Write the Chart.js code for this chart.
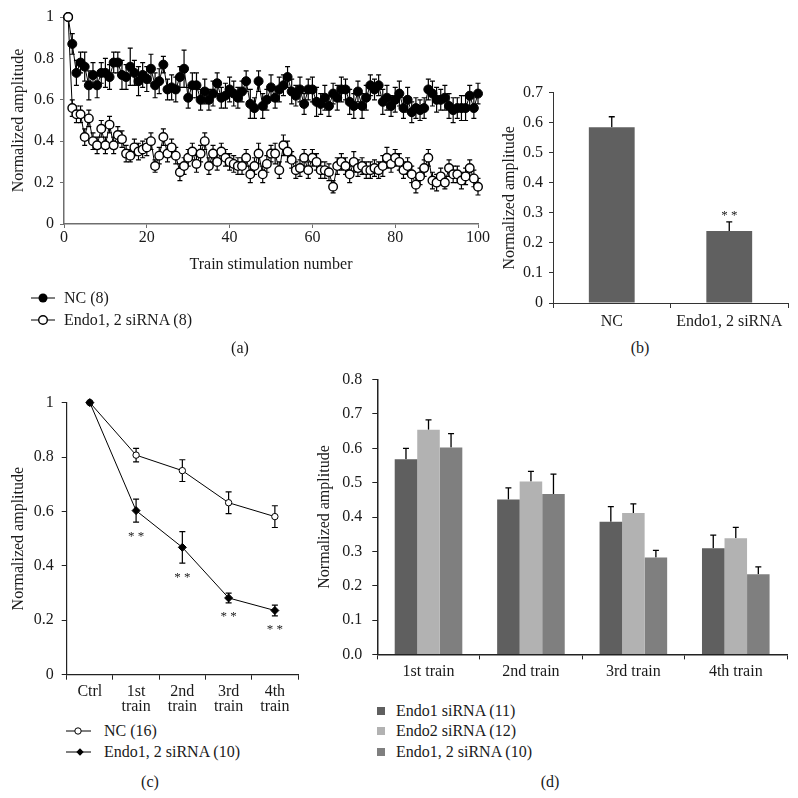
<!DOCTYPE html>
<html>
<head>
<meta charset="utf-8">
<script src="https://cdn.jsdelivr.net/npm/chart.js@4.4.1/dist/chart.umd.min.js"></script>
<style>
  html, body { margin: 0; padding: 0; background: #fff; }
  body { width: 798px; height: 798px; position: relative; overflow: hidden;
         font-family: "Liberation Serif", "DejaVu Serif", serif; color: #1a1a1a; }
  canvas { position: absolute; }
  .lbl { position: absolute; font-size: 16px; line-height: 20px; white-space: nowrap; transform: translateX(-50%); }
  .leg { position: absolute; height: 20px; font-size: 16px; line-height: 20px; white-space: nowrap; display: flex; align-items: center; }
  .leg svg { display: block; flex: none; }
</style>
</head>
<body>
<canvas id="chartA" width="492" height="290" style="left:0;top:0"></canvas>
<canvas id="chartB" width="299" height="275" style="left:499px;top:62px"></canvas>
<canvas id="chartC" width="305" height="335" style="left:0;top:385px"></canvas>
<canvas id="chartD" width="493" height="330" style="left:305px;top:360px"></canvas>

<!-- legend (a) -->
<div class="leg" style="left:28px;top:288px">
  <svg width="36" height="20"><line x1="3" y1="10" x2="27" y2="10" stroke="#000" stroke-width="1"/><circle cx="15" cy="10" r="4.5" fill="#000"/></svg>NC (8)
</div>
<div class="leg" style="left:28px;top:310px">
  <svg width="36" height="20"><line x1="3" y1="10" x2="27" y2="10" stroke="#000" stroke-width="1"/><circle cx="15" cy="10" r="4.3" fill="#fff" stroke="#000" stroke-width="1.4"/></svg>Endo1, 2 siRNA (8)
</div>
<div class="lbl" style="left:240px;top:338px">(a)</div>
<div class="lbl" style="left:640px;top:338px">(b)</div>

<!-- legend (c) -->
<div class="leg" style="left:62px;top:721px">
  <svg width="42" height="20"><line x1="4" y1="10" x2="29" y2="10" stroke="#000" stroke-width="1"/><circle cx="16" cy="10" r="3.2" fill="#fff" stroke="#000" stroke-width="1"/></svg>NC (16)
</div>
<div class="leg" style="left:62px;top:742px">
  <svg width="42" height="20"><line x1="4" y1="10" x2="29" y2="10" stroke="#000" stroke-width="1"/><polygon points="18,6.3 21.7,10 18,13.7 14.3,10" fill="#000"/></svg>Endo1, 2 siRNA (10)
</div>
<div class="lbl" style="left:150px;top:772px">(c)</div>

<!-- legend (d) -->
<div class="leg" style="left:375px;top:701px">
  <svg width="21" height="20"><rect x="2" y="6" width="8" height="8" fill="#5f5f5f"/></svg>Endo1 siRNA (11)
</div>
<div class="leg" style="left:375px;top:721px">
  <svg width="21" height="20"><rect x="2" y="6" width="8" height="8" fill="#b2b2b2"/></svg>Endo2 siRNA (12)
</div>
<div class="leg" style="left:375px;top:742px">
  <svg width="21" height="20"><rect x="2" y="6" width="8" height="8" fill="#7f7f7f"/></svg>Endo1, 2 siRNA (10)
</div>
<div class="lbl" style="left:550px;top:772px">(d)</div>

<script>
// (a) amplitude per train, trains 1..100
const ncTrain = [
  1.00, 0.87, 0.73, 0.78, 0.76, 0.67, 0.72, 0.67, 0.73, 0.73,
  0.71, 0.78, 0.78, 0.72, 0.71, 0.76, 0.73, 0.69, 0.72, 0.70,
  0.75, 0.67, 0.69, 0.77, 0.65, 0.66, 0.65, 0.71, 0.75, 0.61,
  0.67, 0.67, 0.60, 0.64, 0.60, 0.63, 0.68, 0.61, 0.62, 0.65,
  0.63, 0.61, 0.64, 0.69, 0.58, 0.56, 0.69, 0.57, 0.60, 0.66,
  0.61, 0.65, 0.67, 0.71, 0.64, 0.62, 0.65, 0.58, 0.65, 0.65,
  0.59, 0.58, 0.61, 0.57, 0.63, 0.61, 0.65, 0.65, 0.59, 0.57,
  0.64, 0.57, 0.61, 0.67, 0.65, 0.67, 0.59, 0.61, 0.57, 0.60,
  0.63, 0.56, 0.60, 0.54, 0.56, 0.55, 0.56, 0.65, 0.63, 0.60,
  0.60, 0.61, 0.57, 0.55, 0.56, 0.56, 0.56, 0.62, 0.56, 0.63
];
const ncTrainErr = [
  0.00, 0.05, 0.06, 0.05, 0.07, 0.07, 0.06, 0.06, 0.05, 0.07,
  0.06, 0.05, 0.05, 0.07, 0.06, 0.09, 0.06, 0.07, 0.06, 0.06,
  0.07, 0.06, 0.06, 0.04, 0.05, 0.06, 0.06, 0.05, 0.09, 0.05,
  0.06, 0.06, 0.05, 0.06, 0.05, 0.06, 0.05, 0.05, 0.06, 0.06,
  0.06, 0.05, 0.05, 0.05, 0.07, 0.05, 0.05, 0.06, 0.05, 0.06,
  0.05, 0.06, 0.05, 0.05, 0.06, 0.05, 0.06, 0.05, 0.05, 0.06,
  0.07, 0.05, 0.06, 0.05, 0.05, 0.06, 0.06, 0.05, 0.06, 0.06,
  0.05, 0.06, 0.06, 0.05, 0.05, 0.05, 0.06, 0.06, 0.05, 0.06,
  0.06, 0.05, 0.06, 0.05, 0.05, 0.05, 0.05, 0.05, 0.06, 0.06,
  0.05, 0.06, 0.06, 0.06, 0.05, 0.06, 0.06, 0.05, 0.05, 0.05
];
const endoTrain = [
  1.00, 0.56, 0.53, 0.53, 0.42, 0.51, 0.40, 0.38, 0.46, 0.38,
  0.48, 0.38, 0.43, 0.41, 0.34, 0.33, 0.37, 0.35, 0.36, 0.37,
  0.40, 0.28, 0.33, 0.42, 0.34, 0.37, 0.33, 0.25, 0.28, 0.32,
  0.35, 0.29, 0.34, 0.40, 0.28, 0.34, 0.30, 0.35, 0.32, 0.30,
  0.29, 0.28, 0.28, 0.32, 0.24, 0.28, 0.34, 0.24, 0.29, 0.34,
  0.34, 0.26, 0.38, 0.35, 0.31, 0.26, 0.27, 0.32, 0.26, 0.32,
  0.30, 0.26, 0.26, 0.25, 0.18, 0.28, 0.30, 0.28, 0.24, 0.30,
  0.27, 0.28, 0.26, 0.26, 0.27, 0.26, 0.28, 0.32, 0.29, 0.32,
  0.30, 0.26, 0.28, 0.24, 0.19, 0.23, 0.27, 0.32, 0.21, 0.20,
  0.23, 0.20, 0.27, 0.24, 0.24, 0.21, 0.23, 0.27, 0.22, 0.18
];
const endoTrainErr = [
  0.00, 0.04, 0.04, 0.04, 0.04, 0.04, 0.04, 0.04, 0.04, 0.04,
  0.04, 0.04, 0.04, 0.04, 0.04, 0.03, 0.04, 0.04, 0.04, 0.04,
  0.04, 0.03, 0.04, 0.04, 0.04, 0.04, 0.04, 0.04, 0.04, 0.04,
  0.04, 0.04, 0.04, 0.04, 0.04, 0.04, 0.04, 0.04, 0.04, 0.04,
  0.04, 0.04, 0.04, 0.04, 0.04, 0.04, 0.05, 0.04, 0.04, 0.04,
  0.05, 0.04, 0.05, 0.05, 0.04, 0.04, 0.04, 0.04, 0.04, 0.04,
  0.04, 0.04, 0.04, 0.04, 0.03, 0.04, 0.04, 0.04, 0.04, 0.05,
  0.04, 0.04, 0.04, 0.04, 0.04, 0.04, 0.05, 0.05, 0.04, 0.04,
  0.04, 0.04, 0.04, 0.04, 0.04, 0.04, 0.04, 0.04, 0.04, 0.04,
  0.04, 0.03, 0.04, 0.04, 0.04, 0.04, 0.04, 0.04, 0.04, 0.04
];

// (b)
const groupsB = ['NC', 'Endo1, 2 siRNA'];
const meanB = [0.585, 0.24];
const errB = [0.035, 0.03];
const sigB = ['', '**'];

// (c)
const trainsC = ['Ctrl', ['1st', 'train'], ['2nd', 'train'], ['3rd', 'train'], ['4th', 'train']];
const ncC = [1, 0.807, 0.75, 0.632, 0.581];
const ncCErr = [0, 0.025, 0.04, 0.04, 0.04];
const endoC = [1, 0.603, 0.468, 0.282, 0.236];
const endoCErr = [0, 0.042, 0.058, 0.018, 0.02];
const sigC = ['', '**', '**', '**', '**'];

// (d)
const trainsD = ['1st train', '2nd train', '3rd train', '4th train'];
const endo1D = [0.568, 0.451, 0.386, 0.309];
const endo1DErr = [0.032, 0.034, 0.044, 0.038];
const endo2D = [0.654, 0.503, 0.412, 0.338];
const endo2DErr = [0.029, 0.03, 0.026, 0.032];
const endo12D = [0.602, 0.467, 0.282, 0.233];
const endo12DErr = [0.041, 0.058, 0.021, 0.022];

const serif = '"Liberation Serif", "DejaVu Serif", serif';
const ink = '#1a1a1a';
Chart.defaults.font.family = serif;
Chart.defaults.font.size = 16;
Chart.defaults.color = ink;

// error bars drawn from the y scale, behind each dataset's own marks
const errorBars = {
  id: 'errorBars',
  beforeDatasetDraw(chart, args) {
    const ds = chart.data.datasets[args.index];
    if (!ds.errors) return;
    const meta = args.meta;
    const yScale = chart.scales[meta.yAxisID];
    const ctx = chart.ctx;
    const cap = ds.capHalf || 3;
    ctx.save();
    ctx.strokeStyle = '#000';
    ctx.lineWidth = ds.errorWidth || 1.2;
    meta.data.forEach((el, i) => {
      const raw = ds.data[i];
      const v = typeof raw === 'object' ? raw.y : raw;
      const e = ds.errors[i];
      if (!e) return;
      const top = yScale.getPixelForValue(v + e);
      const bot = ds.errorDir === 'up' ? yScale.getPixelForValue(v) : yScale.getPixelForValue(v - e);
      ctx.beginPath();
      ctx.moveTo(el.x, top); ctx.lineTo(el.x, bot);
      ctx.moveTo(el.x - cap, top); ctx.lineTo(el.x + cap, top);
      if (ds.errorDir !== 'up') { ctx.moveTo(el.x - cap, bot); ctx.lineTo(el.x + cap, bot); }
      ctx.stroke();
    });
    ctx.restore();
  }
};

// significance stars placed just past the error bar
const sigMarks = {
  id: 'sigMarks',
  afterDatasetsDraw(chart) {
    const ctx = chart.ctx;
    chart.data.datasets.forEach((ds, di) => {
      if (!ds.sig) return;
      const meta = chart.getDatasetMeta(di);
      const yScale = chart.scales[meta.yAxisID];
      ctx.save();
      ctx.font = '13px ' + serif;
      ctx.fillStyle = ink;
      ctx.textAlign = 'center';
      ctx.textBaseline = 'alphabetic';
      meta.data.forEach((el, i) => {
        if (!ds.sig[i]) return;
        const v = ds.data[i];
        const e = ds.errors ? ds.errors[i] : 0;
        const y = ds.sigSide === 'below'
          ? yScale.getPixelForValue(v - e) + ds.sigGap
          : yScale.getPixelForValue(v + e) - ds.sigGap;
        ctx.fillText(ds.sig[i].split('').join(' '), el.x, y);
      });
      ctx.restore();
    });
  }
};
Chart.register(errorBars, sigMarks);

function fixWidth(w) { return s => { s.width = w; }; }
function fixHeight(h) { return s => { s.height = h; }; }
function decimalLabel(v) {
  if (Math.abs(v) < 1e-9) return '0';
  if (Math.abs(v - 1) < 1e-9) return '1';
  return v.toFixed(1);
}

// ---------- (a) ----------
new Chart(document.getElementById('chartA'), {
  type: 'line',
  data: {
    datasets: [{
      label: 'NC (8)',
      data: ncTrain.map((v, i) => ({ x: i + 1, y: v })),
      errors: ncTrainErr,
      capHalf: 2.5,
      borderColor: '#000',
      borderWidth: 1,
      pointRadius: 4.5,
      pointBackgroundColor: '#000',
      pointBorderColor: '#000',
      pointBorderWidth: 1,
      clip: false,
      order: 1
    }, {
      label: 'Endo1, 2 siRNA (8)',
      data: endoTrain.map((v, i) => ({ x: i + 1, y: v })),
      errors: endoTrainErr,
      capHalf: 2.5,
      borderColor: '#000',
      borderWidth: 1,
      pointRadius: 4.3,
      pointBackgroundColor: '#fff',
      pointBorderColor: '#000',
      pointBorderWidth: 1.4,
      clip: false,
      order: 0
    }]
  },
  options: {
    responsive: false,
    animation: false,
    layout: { padding: { top: 17, right: 14, bottom: 15.4, left: 0 } },
    plugins: { legend: { display: false }, tooltip: { enabled: false } },
    scales: {
      x: {
        type: 'linear', min: 0, max: 100,
        afterFit: fixHeight(50.6),
        ticks: { stepSize: 20, padding: 0 },
        grid: { drawOnChartArea: false, tickLength: 4, color: '#6e6e6e' },
        border: { color: '#6e6e6e', width: 1.5 },
        title: { display: true, text: 'Train stimulation number', padding: 0, font: { size: 16 } }
      },
      y: {
        min: 0, max: 1,
        afterFit: fixWidth(64),
        ticks: { stepSize: 0.2, padding: 6, callback: decimalLabel },
        grid: { drawOnChartArea: false, tickLength: 4, color: '#6e6e6e' },
        border: { color: '#6e6e6e', width: 1.5 },
        title: { display: true, text: 'Normalized amplitude', padding: { top: 9.4 }, font: { size: 16 } }
      }
    }
  }
});

// ---------- (b) ----------
new Chart(document.getElementById('chartB'), {
  type: 'bar',
  data: {
    labels: groupsB,
    datasets: [{
      label: 'Normalized amplitude',
      data: meanB,
      errors: errB,
      errorDir: 'up',
      capHalf: 3,
      errorWidth: 1.3,
      sig: sigB,
      sigSide: 'above',
      sigGap: 3,
      backgroundColor: '#606060',
      categoryPercentage: 1,
      barPercentage: 0.39
    }]
  },
  options: {
    responsive: false,
    animation: false,
    layout: { padding: { top: 30.7, right: 10, bottom: 0, left: 0 } },
    plugins: { legend: { display: false }, tooltip: { enabled: false } },
    scales: {
      x: {
        afterFit: fixHeight(34),
        ticks: { padding: 4 },
        grid: { drawOnChartArea: false, offset: true, tickLength: 5, color: '#333' },
        border: { color: '#333', width: 1 }
      },
      y: {
        min: 0, max: 0.7,
        afterFit: fixWidth(54),
        ticks: { stepSize: 0.1, padding: 6, callback: decimalLabel },
        grid: { drawOnChartArea: false, tickLength: 4, color: '#333' },
        border: { color: '#333', width: 1 },
        title: { display: true, text: 'Normalized amplitude', padding: { top: 1.4 }, font: { size: 16 } }
      }
    }
  }
});

// ---------- (c) ----------
new Chart(document.getElementById('chartC'), {
  type: 'line',
  data: {
    labels: trainsC,
    datasets: [{
      label: 'NC (16)',
      data: ncC,
      errors: ncCErr,
      capHalf: 3,
      borderColor: '#000',
      borderWidth: 1,
      pointStyle: 'circle',
      pointRadius: 3.2,
      pointBackgroundColor: '#fff',
      pointBorderColor: '#000',
      pointBorderWidth: 1,
      clip: false,
      order: 1
    }, {
      label: 'Endo1, 2 siRNA (10)',
      data: endoC,
      errors: endoCErr,
      capHalf: 3,
      sig: sigC,
      sigSide: 'below',
      sigGap: 17.5,
      borderColor: '#000',
      borderWidth: 1,
      pointStyle: 'rectRot',
      pointRadius: 4,
      pointBackgroundColor: '#000',
      pointBorderColor: '#000',
      pointBorderWidth: 1,
      clip: false,
      order: 0
    }]
  },
  options: {
    responsive: false,
    animation: false,
    layout: { padding: { top: 14, right: 7, bottom: 0, left: 0 } },
    plugins: { legend: { display: false }, tooltip: { enabled: false } },
    scales: {
      x: {
        offset: true,
        afterFit: fixHeight(45.3),
        ticks: { padding: 5, maxRotation: 0, autoSkip: false, font: { size: 16, lineHeight: 0.94 } },
        grid: { drawOnChartArea: false, offset: true, tickLength: 5, color: '#222' },
        border: { color: '#222', width: 1.2 }
      },
      y: {
        min: 0, max: 1,
        afterFit: fixWidth(66.7),
        ticks: { stepSize: 0.2, padding: 8, callback: decimalLabel },
        grid: { drawOnChartArea: false, tickLength: 5, color: '#222' },
        border: { color: '#222', width: 1.2 },
        title: { display: true, text: 'Normalized amplitude', padding: { top: 9.4 }, font: { size: 16 } }
      }
    }
  }
});

// ---------- (d) ----------
new Chart(document.getElementById('chartD'), {
  type: 'bar',
  data: {
    labels: trainsD,
    datasets: [{
      label: 'Endo1 siRNA (11)',
      data: endo1D, errors: endo1DErr, errorDir: 'up', capHalf: 3, errorWidth: 1.3,
      backgroundColor: '#5f5f5f'
    }, {
      label: 'Endo2 siRNA (12)',
      data: endo2D, errors: endo2DErr, errorDir: 'up', capHalf: 3, errorWidth: 1.3,
      backgroundColor: '#b2b2b2'
    }, {
      label: 'Endo1, 2 siRNA (10)',
      data: endo12D, errors: endo12DErr, errorDir: 'up', capHalf: 3, errorWidth: 1.3,
      backgroundColor: '#7f7f7f'
    }]
  },
  options: {
    responsive: false,
    animation: false,
    datasets: { bar: { categoryPercentage: 0.66, barPercentage: 1 } },
    layout: { padding: { top: 16, right: 11, bottom: 0, left: 0 } },
    plugins: { legend: { display: false }, tooltip: { enabled: false } },
    scales: {
      x: {
        afterFit: fixHeight(35.6),
        ticks: { padding: 3 },
        grid: { drawOnChartArea: false, offset: true, tickLength: 5, color: '#222' },
        border: { color: '#222', width: 1.5 }
      },
      y: {
        min: 0, max: 0.8,
        afterFit: fixWidth(72.3),
        ticks: { stepSize: 0.1, padding: 10, callback: v => v.toFixed(1) },
        grid: { drawOnChartArea: false, tickLength: 5, color: '#222' },
        border: { color: '#222', width: 1.5 },
        title: { display: true, text: 'Normalized amplitude', padding: { top: 10.4 }, font: { size: 16 } }
      }
    }
  }
});
</script>
</body>
</html>
